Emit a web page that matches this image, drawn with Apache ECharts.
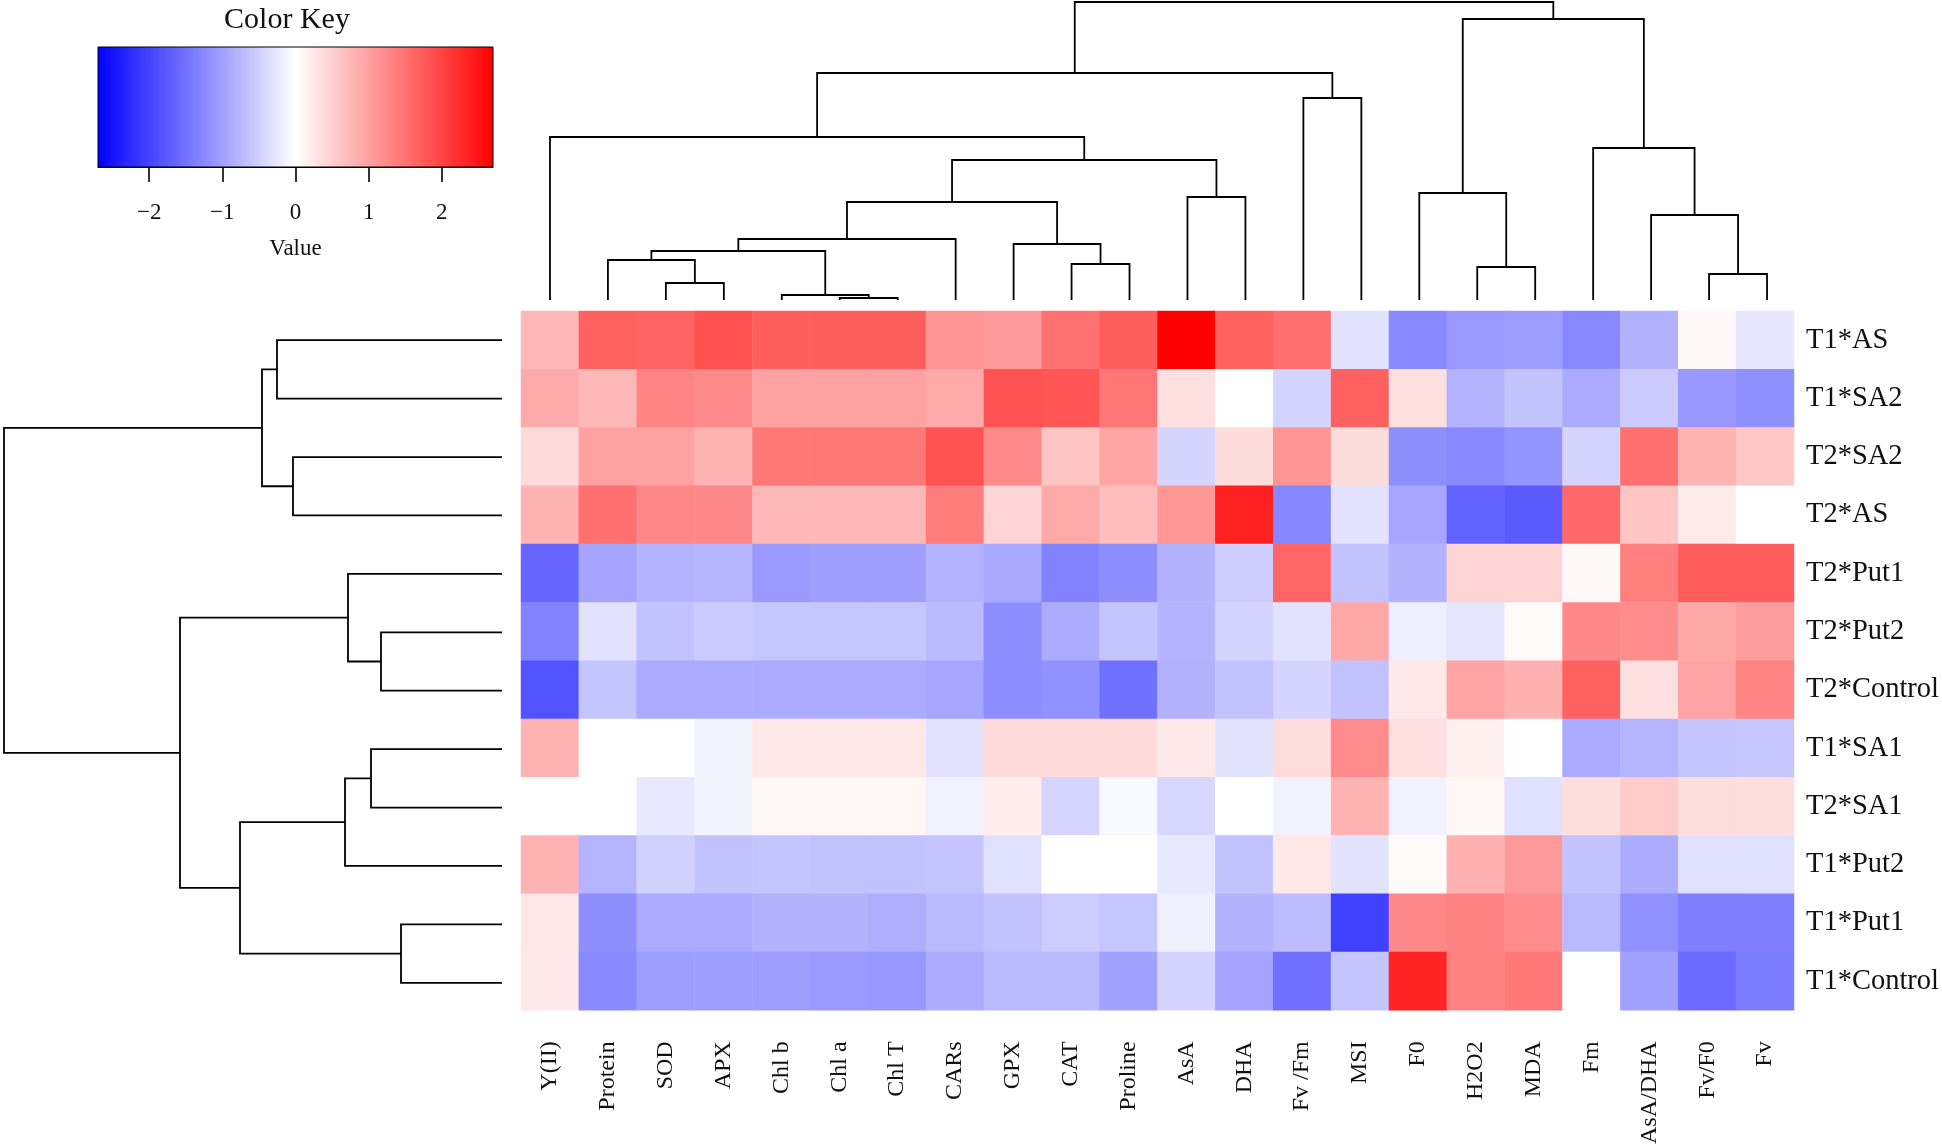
<!DOCTYPE html>
<html><head><meta charset="utf-8">
<script src="https://cdn.jsdelivr.net/npm/echarts@6/dist/echarts.min.js"></script>
<style>html,body{margin:0;padding:0;background:#fff}#c{width:1942px;height:1147px}</style>
</head><body><div id="c"></div>
<script>
// ---------- data ----------
const colNames = ['Y(II)','Protein','SOD','APX','Chl b','Chl a','Chl T','CARs','GPX','CAT','Proline','AsA','DHA','Fv /Fm','MSI','F0','H2O2','MDA','Fm','AsA/DHA','Fv/F0','Fv'];
const rowNames = ['T1*AS','T1*SA2','T2*SA2','T2*AS','T2*Put1','T2*Put2','T2*Control','T1*SA1','T2*SA1','T1*Put2','T1*Put1','T1*Control'];

const T1_AS      = [0.75,1.68,1.65,1.85,1.70,1.70,1.70,1.13,1.07,1.49,1.70,2.70,1.68,1.50,-0.31,-1.26,-1.08,-1.04,-1.26,-0.83,0.07,-0.27];
const T1_SA2     = [0.90,0.75,1.30,1.24,1.00,1.00,1.00,0.90,1.83,1.80,1.45,0.33,0.00,-0.45,1.68,0.33,-0.80,-0.64,-0.90,-0.55,-1.10,-1.18];
const T2_SA2     = [0.39,1.00,1.00,0.80,1.44,1.43,1.43,1.83,1.24,0.62,0.95,-0.45,0.37,1.13,0.37,-1.20,-1.26,-1.13,-0.46,1.50,0.80,0.59];
const T2_AS      = [0.80,1.50,1.26,1.26,0.75,0.75,0.75,1.39,0.46,0.90,0.70,1.10,2.36,-1.28,-0.30,-0.94,-1.66,-1.75,1.60,0.62,0.22,0.00];
const T2_Put1    = [-1.62,-0.96,-0.80,-0.78,-1.08,-1.03,-1.03,-0.80,-0.92,-1.32,-1.21,-0.82,-0.54,1.63,-0.65,-0.82,0.46,0.46,0.07,1.35,1.72,1.72];
const T2_Put2    = [-1.32,-0.31,-0.64,-0.55,-0.60,-0.60,-0.60,-0.73,-1.21,-0.88,-0.62,-0.80,-0.46,-0.30,0.92,-0.18,-0.27,0.05,1.26,1.22,0.92,1.04];
const T2_Control = [-1.83,-0.62,-0.90,-0.90,-0.90,-0.90,-0.90,-0.94,-1.21,-1.17,-1.51,-0.82,-0.65,-0.46,-0.65,0.24,0.96,0.83,1.68,0.33,0.96,1.30];
const T1_SA1     = [0.80,0.00,0.00,-0.12,0.24,0.24,0.24,-0.30,0.39,0.39,0.39,0.24,-0.30,0.36,1.22,0.33,0.16,0.00,-0.90,-0.78,-0.62,-0.60];
const T2_SA1     = [0.00,0.00,-0.24,-0.12,0.10,0.10,0.10,-0.14,0.20,-0.44,-0.07,-0.41,0.00,-0.14,0.80,-0.14,0.10,-0.33,0.36,0.55,0.36,0.35];
const T1_Put2    = [0.80,-0.78,-0.49,-0.65,-0.62,-0.65,-0.65,-0.62,-0.33,0.00,0.00,-0.24,-0.65,0.24,-0.30,0.05,0.83,1.07,-0.64,-0.88,-0.33,-0.33];
const T1_Put1    = [0.26,-1.20,-0.90,-0.90,-0.82,-0.82,-0.86,-0.73,-0.65,-0.54,-0.60,-0.16,-0.82,-0.71,-2.02,1.26,1.32,1.22,-0.73,-1.17,-1.36,-1.35];
const T1_Control = [0.24,-1.24,-1.04,-1.04,-1.04,-1.08,-1.10,-0.88,-0.73,-0.73,-1.00,-0.46,-0.96,-1.51,-0.62,2.33,1.32,1.43,0.00,-1.00,-1.58,-1.38];
const rowValues = [T1_AS,T1_SA2,T2_SA2,T2_AS,T2_Put1,T2_Put2,T2_Control,T1_SA1,T2_SA1,T1_Put2,T1_Put1,T1_Control];

// dendrograms (R hclust style: negative = leaf, positive = earlier merge; third = height)
const colMerges = [[-6,-7,2],[-5,1,5],[-3,-4,17],[-2,3,40],[4,2,49],[5,-8,61],[-10,-11,36],[-9,7,56],[6,8,98],[-12,-13,103],[9,10,140],[-1,11,163],[-14,-15,202],[12,13,227],[-17,-18,33],[-16,15,107],[-21,-22,26],[-20,17,85],[-19,18,152],[16,19,281],[14,20,298]];
const rowMerges = [[-1,-2,225],[-3,-4,209],[1,2,240],[-6,-7,121],[-5,4,154],[-8,-9,131],[6,-10,157],[-11,-12,101],[7,8,262],[5,9,322],[3,10,498]];

// colour key
const keyMin = -2.7, keyMax = 2.7;
const keyTicks = [-2,-1,0,1,2];
const keyColors = ['#0000ff','#ffffff','#ff0000'];

// ---------- build ----------
const FONT = '"Liberation Serif","DejaVu Serif",serif';
const TXT = '#111';
const heatData = [];
rowValues.forEach((row, r) => row.forEach((v, c) => heatData.push([c, r, v])));

function dendroSegments(merges) {
  const pos = [], ht = [], segs = [];
  merges.forEach(([a, b, h], k) => {
    const pa = a < 0 ? -a - 1 : pos[a - 1], ha = a < 0 ? 0 : ht[a - 1];
    const pb = b < 0 ? -b - 1 : pos[b - 1], hb = b < 0 ? 0 : ht[b - 1];
    pos[k] = (pa + pb) / 2; ht[k] = h;
    segs.push([pa, ha, pb, hb, h]);
  });
  return segs;
}
const colSegs = dendroSegments(colMerges);
const rowSegs = dendroSegments(rowMerges);
const colMaxH = colMerges[colMerges.length - 1][2];
const rowMaxH = rowMerges[rowMerges.length - 1][2];

const chart = echarts.init(document.getElementById('c'), null, {renderer: 'canvas'});
const G = {l: 521, t: 311, w: 1275, h: 701};
chart.setOption({
  backgroundColor: '#fff',
  animation: false,
  grid: [
    {left: G.l, top: G.t, width: G.w, height: G.h},
    {left: G.l, top: 2, width: G.w, height: 298},
    {left: 4, top: G.t, width: 498, height: G.h},
    {left: 98, top: 47, width: 395, height: 120}
  ],
  xAxis: [
    {gridIndex: 0, type: 'category', data: colNames, position: 'bottom',
     axisLine: {show: false}, axisTick: {show: false}, splitLine: {show: false},
     axisLabel: {rotate: 90, margin: 31, fontSize: 24, fontFamily: FONT, color: TXT, interval: 0, padding: [0, 0, 10, 0]}},
    {gridIndex: 1, type: 'value', min: -0.5, max: colNames.length - 0.5, show: false},
    {gridIndex: 2, type: 'value', min: 0, max: rowMaxH, inverse: true, show: false},
    {gridIndex: 3, type: 'value', min: keyMin, max: keyMax, splitLine: {show: false},
     axisLine: {show: true, onZero: false, lineStyle: {color: '#000', width: 1}},
     axisTick: {show: true, length: 15, customValues: keyTicks, lineStyle: {color: '#000', width: 1.6}},
     axisLabel: {customValues: keyTicks, margin: 34, fontSize: 23, fontFamily: FONT, color: TXT,
       formatter: v => (v < 0 ? '\u2212' + Math.abs(v) : String(v))},
     name: 'Value', nameLocation: 'middle', nameGap: 70,
     nameTextStyle: {fontSize: 23, fontFamily: FONT, color: TXT}}
  ],
  yAxis: [
    {gridIndex: 0, type: 'category', data: rowNames, inverse: true, position: 'right',
     axisLine: {show: false}, axisTick: {show: false}, splitLine: {show: false},
     axisLabel: {margin: 12, fontSize: 28.5, fontFamily: FONT, color: TXT}},
    {gridIndex: 1, type: 'value', min: 0, max: colMaxH, show: false},
    {gridIndex: 2, type: 'value', min: -0.5, max: rowNames.length - 0.5, inverse: true, show: false},
    {gridIndex: 3, type: 'value', min: 0, max: 1, show: false}
  ],
  visualMap: {type: 'continuous', min: keyMin, max: keyMax, show: false, seriesIndex: 0,
    inRange: {color: keyColors}},
  graphic: [
    {type: 'text', x: 287, y: 20, style: {text: 'Color Key', fill: TXT, font: '30px ' + FONT,
      textAlign: 'center', textVerticalAlign: 'middle'}}
  ],
  series: [
    {type: 'heatmap', xAxisIndex: 0, yAxisIndex: 0, data: heatData,
     itemStyle: {borderWidth: 0}, emphasis: {disabled: true}},
    {type: 'custom', xAxisIndex: 1, yAxisIndex: 1, data: colSegs, silent: true,
     renderItem: (p, api) => {
       const x1 = api.value(0), h1 = api.value(1), x2 = api.value(2), h2 = api.value(3), h = api.value(4);
       return {type: 'polyline', shape: {points: [api.coord([x1, h1]), api.coord([x1, h]), api.coord([x2, h]), api.coord([x2, h2])]},
         style: {stroke: '#000', lineWidth: 1.8, fill: null}};
     }},
    {type: 'custom', xAxisIndex: 2, yAxisIndex: 2, data: rowSegs, silent: true,
     renderItem: (p, api) => {
       const y1 = api.value(0), h1 = api.value(1), y2 = api.value(2), h2 = api.value(3), h = api.value(4);
       return {type: 'polyline', shape: {points: [api.coord([h1, y1]), api.coord([h, y1]), api.coord([h, y2]), api.coord([h2, y2])]},
         style: {stroke: '#000', lineWidth: 1.8, fill: null}};
     }},
    {type: 'custom', xAxisIndex: 3, yAxisIndex: 3, data: [[keyMin, keyMax]], silent: true,
     renderItem: (p, api) => {
       const a = api.coord([api.value(0), 1]), b = api.coord([api.value(1), 0]);
       const stops = keyColors.map((c, i) => ({offset: i / (keyColors.length - 1), color: c}));
       return {type: 'rect', shape: {x: a[0], y: a[1], width: b[0] - a[0], height: b[1] - a[1]},
         style: {fill: new echarts.graphic.LinearGradient(0, 0, 1, 0, stops), stroke: '#000', lineWidth: 1}};
     }}
  ]
});
</script>
</body></html>
